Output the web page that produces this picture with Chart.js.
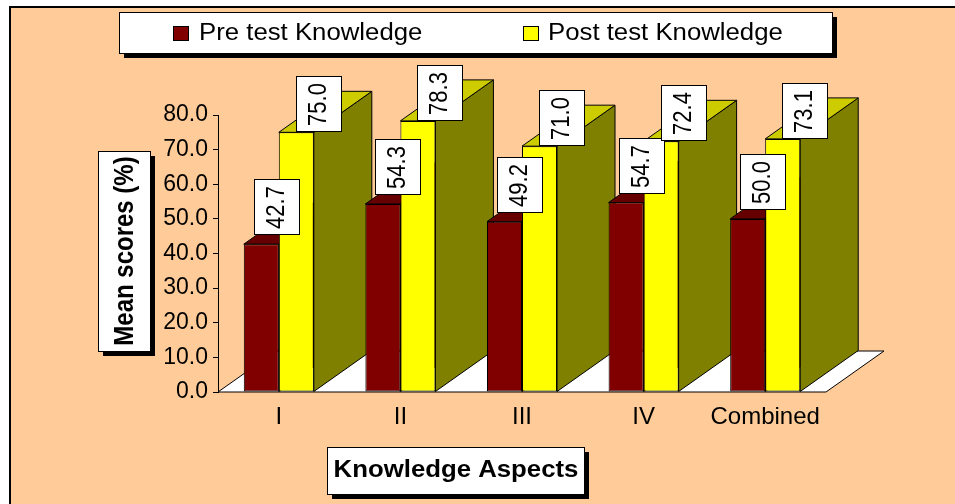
<!DOCTYPE html>
<html>
<head>
<meta charset="utf-8">
<script src="https://cdn.jsdelivr.net/npm/chart.js@4.4.0/dist/chart.umd.min.js"></script>
<style>
  html, body { margin: 0; padding: 0; background: #fff; }
  #wrap { width: 955px; height: 504px; }
</style>
</head>
<body>
<div id="wrap"><canvas id="chart" width="955" height="504"></canvas></div>
<script>
// --- data ---
const categories = ['I', 'II', 'III', 'IV', 'Combined'];
const preTest = [42.7, 54.3, 49.2, 54.7, 50.0];
const postTest = [75.0, 78.3, 71.0, 72.4, 73.1];
const seriesNames = ['Pre test Knowledge', 'Post test Knowledge'];
const yTitle = 'Mean scores (%)';
const xTitle = 'Knowledge Aspects';

// --- look ---
const FONT = '"Liberation Sans", Arial, sans-serif';
const PEACH = '#FFCC99';
const DEPTH = { dx: 58, dy: -41 };
const faces = [
    { front: '#800000', top: '#660000', side: '#4d0000' },
    { front: '#FFFF00', top: '#CCCC00', side: '#808000' }
];
const labelShift = [[15, 10], [22, 1]];

function poly(ctx, pts, fill) {
    ctx.beginPath();
    ctx.moveTo(pts[0][0], pts[0][1]);
    for (let i = 1; i < pts.length; i++) ctx.lineTo(pts[i][0], pts[i][1]);
    ctx.closePath();
    ctx.fillStyle = fill;
    ctx.fill();
    ctx.lineWidth = 1;
    ctx.strokeStyle = '#000';
    ctx.stroke();
}

function shadowBox(ctx, x, y, w, h) {
    ctx.fillStyle = '#000';
    ctx.fillRect(x + 5, y + 5, w, h);
    ctx.fillStyle = '#fff';
    ctx.fillRect(x, y, w, h);
    ctx.lineWidth = 1;
    ctx.strokeStyle = '#000';
    ctx.strokeRect(x + 0.5, y + 0.5, w, h);
}

// text stretched sideways like the original, optionally turned upright
function stretchedText(ctx, txt, cx, cy, font, sx, rotate) {
    ctx.save();
    ctx.translate(cx, cy);
    ctx.scale(sx, 1);
    if (rotate) ctx.rotate(-Math.PI / 2);
    ctx.font = font;
    ctx.fillStyle = '#000';
    ctx.textAlign = 'center';
    ctx.textBaseline = 'middle';
    ctx.fillText(txt, 0, 0);
    ctx.restore();
}

const excel3d = {
    id: 'excel3d',
    beforeDraw(chart) {
        const ctx = chart.ctx;
        ctx.save();
        ctx.fillStyle = '#fff';
        ctx.fillRect(0, 0, chart.width, chart.height);
        ctx.fillStyle = PEACH;
        ctx.fillRect(10, 7, chart.width - 10, chart.height - 7);
        ctx.strokeStyle = '#000';
        ctx.lineWidth = 2;
        ctx.beginPath();
        ctx.moveTo(10, chart.height);
        ctx.lineTo(10, 7);
        ctx.lineTo(chart.width, 7);
        ctx.stroke();
        ctx.restore();
    },
    beforeDatasetsDraw(chart) {
        const ctx = chart.ctx;
        const a = chart.chartArea;
        ctx.save();
        // floor
        poly(ctx, [[a.left, a.bottom], [a.right, a.bottom],
                   [a.right + DEPTH.dx, a.bottom + DEPTH.dy], [a.left + DEPTH.dx, a.bottom + DEPTH.dy]], '#fff');
        // tops and sides, left to right so nearer blocks cover farther ones
        for (let i = 0; i < categories.length; i++) {
            chart.data.datasets.forEach((ds, d) => {
                const bar = chart.getDatasetMeta(d).data[i];
                const l = bar.x - bar.width / 2, r = bar.x + bar.width / 2;
                const t = bar.y, b = bar.base;
                poly(ctx, [[r, t], [r + DEPTH.dx, t + DEPTH.dy], [r + DEPTH.dx, b + DEPTH.dy], [r, b]], faces[d].side);
                poly(ctx, [[l, t], [r, t], [r + DEPTH.dx, t + DEPTH.dy], [l + DEPTH.dx, t + DEPTH.dy]], faces[d].top);
            });
        }
        ctx.restore();
    },
    afterDatasetsDraw(chart) {
        const ctx = chart.ctx;
        ctx.save();
        chart.data.datasets.forEach((ds, d) => {
            chart.getDatasetMeta(d).data.forEach((bar, i) => {
                const w = 45, h = 55;
                const cx = bar.x + labelShift[d][0];
                const bottom = bar.y - labelShift[d][1];
                const x = Math.round(cx - w / 2), y = Math.round(bottom - h);
                ctx.fillStyle = '#fff';
                ctx.fillRect(x, y, w, h);
                ctx.strokeStyle = '#000';
                ctx.lineWidth = 1;
                ctx.strokeRect(x + 0.5, y + 0.5, w, h);
                stretchedText(ctx, ds.data[i].toFixed(1), x + w / 2 + 1, y + h / 2 + 1, '22px ' + FONT, 1.14, true);
            });
        });
        ctx.restore();
    },
    afterDraw(chart) {
        const ctx = chart.ctx;
        ctx.save();
        // legend
        shadowBox(ctx, 119, 12, 713, 41);
        const marks = [[173, 199], [523, 548]];
        chart.data.datasets.forEach((ds, d) => {
            ctx.fillStyle = ds.backgroundColor;
            ctx.fillRect(marks[d][0] + 0.5, 26.5, 15, 14);
            ctx.strokeStyle = '#000';
            ctx.lineWidth = 1;
            ctx.strokeRect(marks[d][0] + 0.5, 26.5, 15, 14);
            ctx.save();
            ctx.translate(marks[d][1], 34);
            ctx.scale(1.12, 1);
            ctx.font = '23px ' + FONT;
            ctx.fillStyle = '#000';
            ctx.textBaseline = 'middle';
            ctx.fillText(ds.label, 0, 0);
            ctx.restore();
        });
        // axis titles
        shadowBox(ctx, 98, 151, 52, 200);
        stretchedText(ctx, yTitle, 125, 251, 'bold 24px ' + FONT, 1.15, true);
        shadowBox(ctx, 327, 447, 257, 47);
        stretchedText(ctx, xTitle, 456, 471, 'bold 23px ' + FONT, 1.12, false);
        ctx.restore();
    }
};

const ctx = document.getElementById('chart').getContext('2d');
new Chart(ctx, {
    type: 'bar',
    data: {
        labels: categories,
        datasets: [
            { label: seriesNames[0], data: preTest, backgroundColor: faces[0].front,
              borderColor: '#000', borderWidth: 1, borderSkipped: false },
            { label: seriesNames[1], data: postTest, backgroundColor: faces[1].front,
              borderColor: '#000', borderWidth: 1, borderSkipped: false }
        ]
    },
    options: {
        responsive: false,
        animation: false,
        devicePixelRatio: 1,
        layout: { padding: { left: 0, top: 115, right: 129, bottom: 0 } },
        datasets: { bar: { categoryPercentage: 0.576, barPercentage: 1.0 } },
        plugins: { legend: { display: false }, tooltip: { enabled: false } },
        scales: {
            x: {
                grid: { display: false, drawTicks: false },
                border: { display: false },
                ticks: { color: '#000', font: { family: FONT, size: 24 }, padding: 11 },
                afterFit(s) { s.height = 112; }
            },
            y: {
                min: 0, max: 80,
                grid: { display: true, drawOnChartArea: false, drawTicks: true, tickLength: 5, color: '#000' },
                border: { display: true, color: '#000', width: 1 },
                ticks: { stepSize: 10, color: '#000', padding: 5,
                         font: { family: FONT, size: 23 },
                         callback: v => v.toFixed(1) },
                afterFit(s) { s.width = 218; }
            }
        }
    },
    plugins: [excel3d]
});
</script>
</body>
</html>
